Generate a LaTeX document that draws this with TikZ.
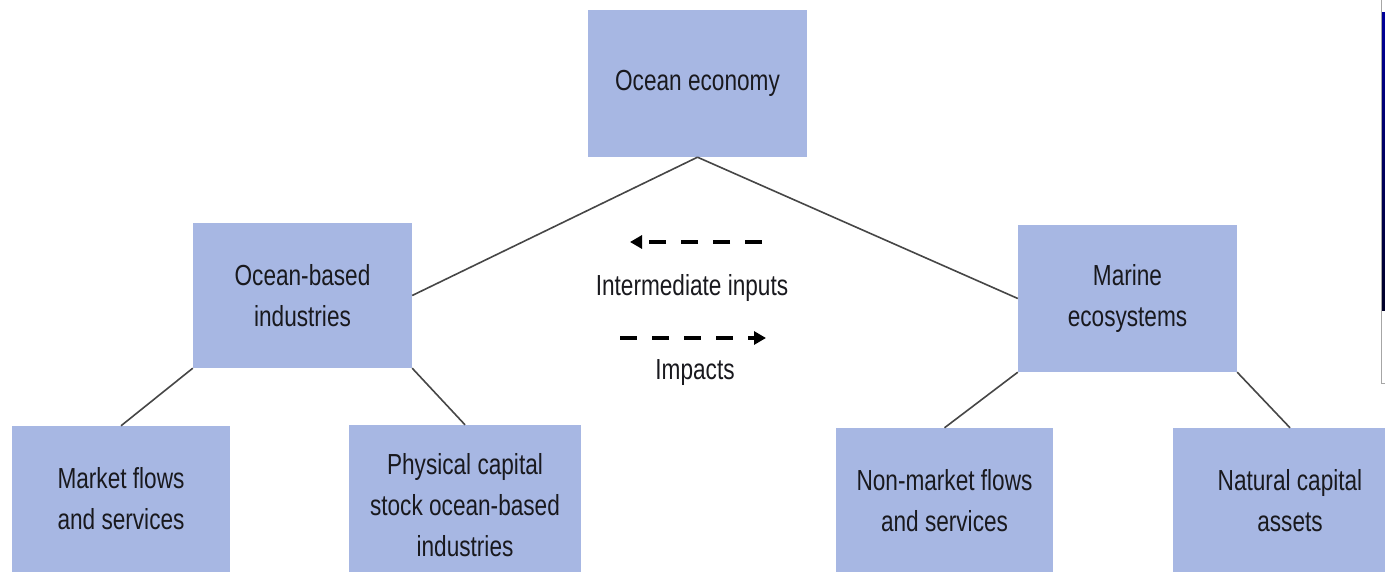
\documentclass[tikz,border=0pt]{standalone}
\usepackage{fontspec}
\setmainfont[FakeStretch=0.78]{Liberation Sans}
\usetikzlibrary{arrows.meta}
\definecolor{boxfill}{RGB}{167,183,227}
\definecolor{linecol}{RGB}{70,70,70}
\definecolor{txtcol}{RGB}{25,25,30}
\tikzset{
  box/.style={draw=none, fill=boxfill, inner sep=0pt, align=center,
    text=txtcol, font=\fontsize{29}{41}\selectfont},
  conn/.style={draw=linecol, line width=1.6pt},
  flowarrow/.style={draw=black, line width=4.5pt, dash pattern=on 17pt off 15pt,
    -{Triangle[length=12pt,width=13pt]}},
  lbl/.style={inner sep=0pt, text=txtcol, font=\fontsize{29}{41}\selectfont}
}
\begin{document}
\begin{tikzpicture}[x=1pt,y=-1pt]
\useasboundingbox (0,0) rectangle (1385,572);
\fill[white] (0,0) rectangle (1385,572);
% boxes
\node[box, minimum width=219pt, minimum height=147pt] (eco) at (697.5,83.5) {Ocean economy};
\node[box, minimum width=219pt, minimum height=145pt] (obi) at (302.5,295.5) {Ocean-based\\industries};
\node[box, minimum width=219pt, minimum height=147pt] (mar) at (1127.5,298.5) {Marine\\ecosystems};
\node[box, minimum width=218pt, minimum height=146pt] (mkt) at (121,499) {Market flows\\and services};
\node[box, minimum width=232pt, minimum height=160pt] (phy) at (465,505) {Physical capital\\stock ocean-based\\industries};
\node[box, minimum width=217pt, minimum height=146pt] (nmk) at (944.5,501) {Non-market flows\\and services};
\node[box, minimum width=234pt, minimum height=146pt] (nat) at (1290,501) {Natural capital\\assets};
% connectors
\draw[conn] (eco.south) -- (obi.east);
\draw[conn] (eco.south) -- (mar.west);
\draw[conn] (obi.south west) -- (mkt.north);
\draw[conn] (obi.south east) -- (phy.north);
\draw[conn] (mar.south west) -- (nmk.north);
\draw[conn] (mar.south east) -- (nat.north);
% flow arrows
\coordinate (ia) at (762,242);
\coordinate (ib) at (630,242);
\coordinate (pa) at (620,338);
\coordinate (pb) at (766,338);
\draw[flowarrow] (ia) -- (ib);
\draw[flowarrow] (pa) -- (pb);
\node[lbl] (inter) at (692,288) {Intermediate inputs};
\node[lbl] (imp) at (695,373) {Impacts};
% cropped image fragment at the right edge
\draw[gray!70, line width=1pt] (1381,0) -- (1381,383) -- (1385,383);
\shade[top color=blue!60!black, bottom color=black!85!blue] (1382,13) rectangle (1385,310);
\end{tikzpicture}
\end{document}
